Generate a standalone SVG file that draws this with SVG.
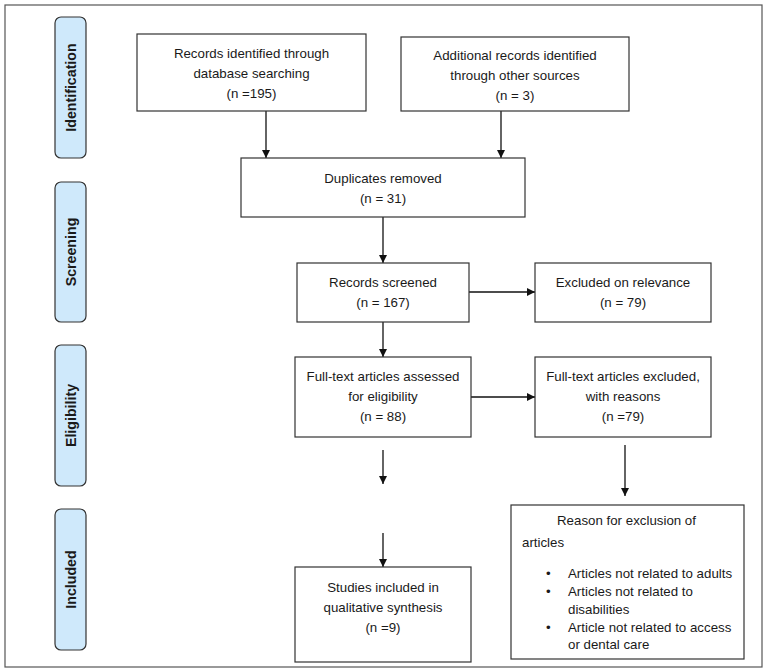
<svg xmlns="http://www.w3.org/2000/svg" width="772" height="672" viewBox="0 0 772 672">
<style>
.frame{fill:#fff;stroke:#555;stroke-width:1.2}
.stage{fill:#cfe9fb;stroke:#333;stroke-width:1.2}
.box{fill:#fff;stroke:#333;stroke-width:1.2}
.t{font-family:"Liberation Sans",Arial,sans-serif;font-size:13.3px;fill:#1a1a1a;text-anchor:middle}
.tl{font-family:"Liberation Sans",Arial,sans-serif;font-size:13.3px;fill:#1a1a1a}
.st{font-family:"Liberation Sans",Arial,sans-serif;font-size:14.2px;font-weight:bold;fill:#1a1a1a;text-anchor:middle}
.c{stroke:#111;stroke-width:1.3;fill:none;marker-end:url(#ah)}
</style>
<defs>
<marker id="ah" viewBox="0 0 10 10" refX="10" refY="5" markerWidth="8" markerHeight="8" markerUnits="userSpaceOnUse" orient="auto">
<path d="M0,0 L10,5 L0,10 z" fill="#111"/>
</marker>
</defs>
<rect x="0" y="0" width="772" height="672" fill="#fff"/>
<rect class="frame" x="5" y="5" width="757" height="662"/>

<g id="stage-identification"><rect class="stage" x="55" y="17" width="31" height="141" rx="6"/><text class="st" transform="translate(75.5,87.5) rotate(-90)">Identification</text></g>
<g id="stage-screening"><rect class="stage" x="55" y="182" width="31" height="140" rx="6"/><text class="st" transform="translate(75.5,252) rotate(-90)">Screening</text></g>
<g id="stage-eligibility"><rect class="stage" x="55" y="345" width="31" height="141" rx="6"/><text class="st" transform="translate(75.5,415.5) rotate(-90)">Eligibility</text></g>
<g id="stage-included"><rect class="stage" x="55" y="509" width="31" height="141" rx="6"/><text class="st" transform="translate(75.5,579.5) rotate(-90)">Included</text></g>

<g id="connectors">
<line class="c" x1="266" y1="111" x2="266" y2="158"/>
<line class="c" x1="501" y1="111" x2="501" y2="158"/>
<line class="c" x1="383" y1="217" x2="383" y2="263"/>
<line class="c" x1="469" y1="292" x2="535" y2="292"/>
<line class="c" x1="383" y1="322" x2="383" y2="357"/>
<line class="c" x1="471" y1="397" x2="535" y2="397"/>
<line class="c" x1="383" y1="450" x2="383" y2="484"/>
<line class="c" x1="383" y1="533" x2="383" y2="567"/>
<line class="c" x1="625" y1="445" x2="625" y2="496"/>
</g>

<g id="records-db"><rect class="box" x="137" y="34" width="229" height="77"/>
<text class="t" x="251.5" y="58">Records identified through</text>
<text class="t" x="251.5" y="78">database searching</text>
<text class="t" x="251.5" y="98">(n =195)</text></g>

<g id="records-other"><rect class="box" x="401" y="37" width="228" height="74"/>
<text class="t" x="515" y="60">Additional records identified</text>
<text class="t" x="515" y="80">through other sources</text>
<text class="t" x="515" y="100">(n = 3)</text></g>

<g id="duplicates"><rect class="box" x="241" y="158" width="284" height="59"/>
<text class="t" x="383" y="182.5">Duplicates removed</text>
<text class="t" x="383" y="202.5">(n = 31)</text></g>

<g id="screened"><rect class="box" x="297" y="263" width="172" height="59"/>
<text class="t" x="383" y="286.5">Records screened</text>
<text class="t" x="383" y="307">(n = 167)</text></g>

<g id="excluded-relevance"><rect class="box" x="535" y="263" width="176" height="59"/>
<text class="t" x="623" y="286.5">Excluded on relevance</text>
<text class="t" x="623" y="307">(n = 79)</text></g>

<g id="fulltext-assessed"><rect class="box" x="295" y="357" width="176" height="80"/>
<text class="t" x="383" y="380.5">Full-text articles assessed</text>
<text class="t" x="383" y="400.5">for eligibility</text>
<text class="t" x="383" y="420.5">(n = 88)</text></g>

<g id="fulltext-excluded"><rect class="box" x="535" y="357" width="176" height="80"/>
<text class="t" x="623" y="380.5">Full-text articles excluded,</text>
<text class="t" x="623" y="400.5">with reasons</text>
<text class="t" x="623" y="420.5">(n =79)</text></g>

<g id="studies-included"><rect class="box" x="295" y="567" width="176" height="95"/>
<text class="t" x="383" y="591.5">Studies included in</text>
<text class="t" x="383" y="611.5">qualitative synthesis</text>
<text class="t" x="383" y="631.5">(n =9)</text></g>

<g id="exclusion-reasons"><rect class="box" x="511" y="505" width="233" height="154"/>
<text class="tl" x="557" y="524.5">Reason for exclusion of</text>
<text class="tl" x="522" y="546.5">articles</text>
<text class="tl" x="546" y="577.5">•</text><text class="tl" x="568" y="577.5">Articles not related to adults</text>
<text class="tl" x="546" y="596">•</text><text class="tl" x="568" y="596">Articles not related to</text>
<text class="tl" x="568" y="613.5">disabilities</text>
<text class="tl" x="546" y="632">•</text><text class="tl" x="568" y="632">Article not related to access</text>
<text class="tl" x="568" y="649">or dental care</text></g>
</svg>
